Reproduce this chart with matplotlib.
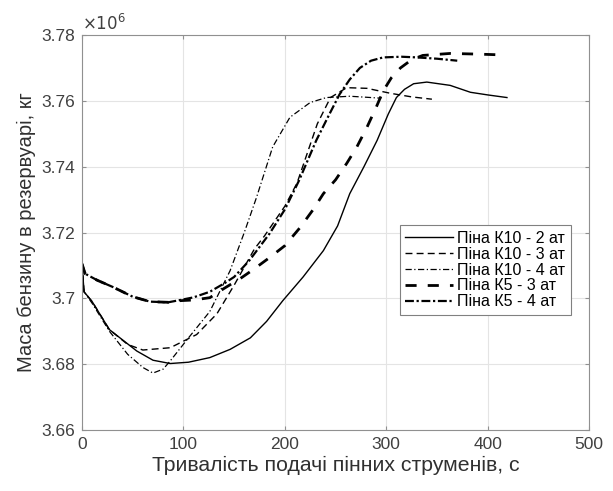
import matplotlib.pyplot as plt
from matplotlib.ticker import FuncFormatter

plt.rcParams['font.family'] = ['Liberation Sans', 'DejaVu Sans']

# mass values in 10^6 kg
t_k10_2 = [0, 2, 10, 27, 54, 70, 87, 105, 126, 146, 166, 182, 198, 218, 238, 252, 264, 278,
           291, 302, 310, 318, 327, 340, 363, 383, 400, 419]
m_k10_2 = [3.7105, 3.7020, 3.6990, 3.6905, 3.6840, 3.6812, 3.6802, 3.6806, 3.6820, 3.6845,
           3.6880, 3.6930, 3.6993, 3.7065, 3.7145, 3.7220, 3.7318, 3.7400, 3.7480, 3.7560,
           3.7610, 3.7635, 3.7652, 3.7657, 3.7647, 3.7626, 3.7618, 3.7610]

t_k10_3 = [0, 2, 10, 27, 45, 60, 87, 113, 133, 150, 170, 180, 200, 212, 222, 232, 245, 261,
           281, 304, 325, 345]
m_k10_3 = [3.7105, 3.7020, 3.6990, 3.6905, 3.6860, 3.6843, 3.6850, 3.6890, 3.6953, 3.7040,
           3.7150, 3.7190, 3.7280, 3.7350, 3.7440, 3.7530, 3.7610, 3.7640, 3.7638, 3.7623,
           3.7612, 3.7605]

t_k10_4 = [0, 2, 10, 27, 45, 60, 70, 80, 87, 105, 126, 146, 160, 172, 188, 205, 225, 241,
           264, 280, 295]
m_k10_4 = [3.7105, 3.7020, 3.6985, 3.6900, 3.6830, 3.6790, 3.6773, 3.6785, 3.6810, 3.6880,
           3.6960, 3.7084, 3.7200, 3.7306, 3.7460, 3.7550, 3.7595, 3.7610, 3.7614, 3.7611,
           3.7608]

t_k5_3 = [0, 3, 15, 30, 50, 67, 85, 97, 110, 126, 140, 156, 170, 185, 200, 215, 228, 238,
          250, 261, 271, 281, 290, 297, 305, 314, 325, 336, 363, 390, 410]
m_k5_3 = [3.7105, 3.7075, 3.7055, 3.7035, 3.7005, 3.6990, 3.6988, 3.6993, 3.6995, 3.7002,
          3.7030, 3.7060, 3.7090, 3.7124, 3.7160, 3.7215, 3.7270, 3.7318, 3.7360, 3.7410,
          3.7460, 3.7520, 3.7580, 3.7630, 3.7670, 3.7700, 3.7725, 3.7738, 3.7744, 3.7742,
          3.7740]

t_k5_4 = [0, 3, 15, 30, 50, 67, 85, 97, 110, 126, 140, 150, 165, 185, 200, 214, 231, 244,
          254, 264, 274, 285, 297, 315, 330, 350, 370]
m_k5_4 = [3.7105, 3.7075, 3.7055, 3.7035, 3.7005, 3.6990, 3.6988, 3.6995, 3.7003, 3.7020,
          3.7045, 3.7065, 3.7115, 3.7197, 3.7270, 3.7358, 3.7480, 3.7560, 3.7620, 3.7665,
          3.7700, 3.7722, 3.7732, 3.7734, 3.7732, 3.7728, 3.7722]

labels = ['Піна К10 - 2 ат', 'Піна К10 - 3 ат', 'Піна К10 - 4 ат', 'Піна К5 - 3 ат', 'Піна К5 - 4 ат']

fig = plt.figure(figsize=(6.13, 4.91), dpi=100)
ax = fig.add_axes([0.1338, 0.1242, 0.8272, 0.8045])

ax.plot(t_k10_2, m_k10_2, color='black', lw=1.0, label=labels[0])
ax.plot(t_k10_3, m_k10_3, color='black', lw=1.0, dashes=(5, 3), label=labels[1])
ax.plot(t_k10_4, m_k10_4, color='black', lw=0.9, dashes=(5, 2, 1, 2), label=labels[2])
ax.plot(t_k5_3, m_k5_3, color='black', lw=2.0, dashes=(4, 4), label=labels[3])
ax.plot(t_k5_4, m_k5_4, color='black', lw=1.6, dashes=(4, 1.2, 1, 1.2), label=labels[4])

ax.set_xlim(0, 500)
ax.set_ylim(3.66, 3.78)
ax.set_xticks([0, 100, 200, 300, 400, 500])
ax.set_yticks([3.66, 3.68, 3.70, 3.72, 3.74, 3.76, 3.78])
ax.yaxis.set_major_formatter(FuncFormatter(lambda v, p: '%g' % round(v, 2)))
ax.grid(True, color='#e4e4e4', lw=0.8)
ax.set_axisbelow(True)
ax.tick_params(direction='in', top=True, right=True, length=3, color='#909090',
               labelsize=12.5, labelcolor='#404040', pad=5)
for s in ax.spines.values():
    s.set_color('#909090')
    s.set_linewidth(0.8)

ax.text(0.0, 1.004, r'$\times10^{6}$', transform=ax.transAxes, ha='left', va='bottom',
        fontsize=12, color='#404040')

ax.set_xlabel('Тривалість подачі пінних струменів, с', fontsize=15.3, color='#303030', labelpad=3)
ax.set_ylabel('Маса бензину в резервуарі, кг', fontsize=14.5, color='#303030', labelpad=4)

leg = ax.legend(loc='center right', bbox_to_anchor=(0.98, 0.405), fontsize=11.5,
                fancybox=False, framealpha=1, edgecolor='#808080', handlelength=3.0,
                handletextpad=0.25, labelspacing=0.05, borderpad=0.35)
leg.get_frame().set_linewidth(0.8)

plt.savefig('out.png', dpi=100)
